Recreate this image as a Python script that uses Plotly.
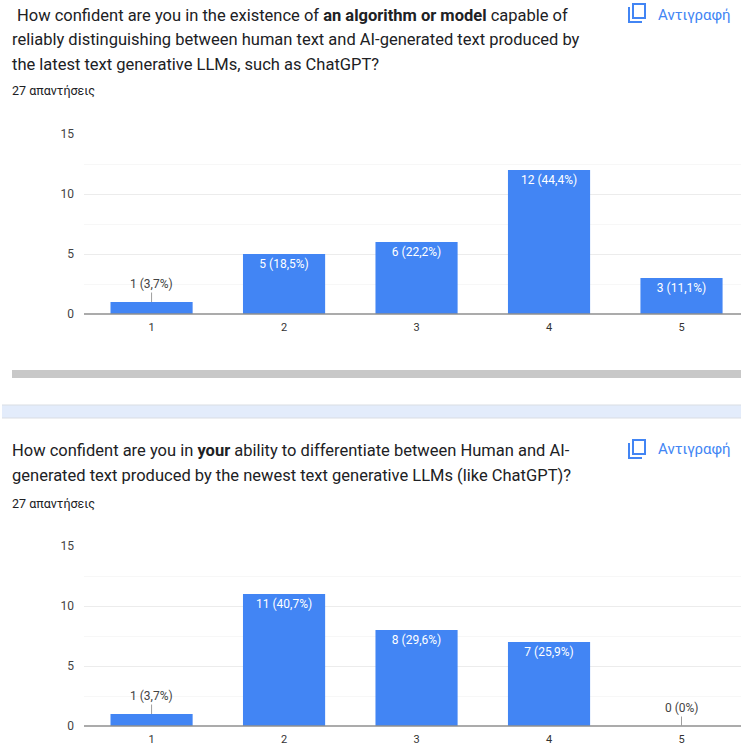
import plotly.graph_objects as go

WIDTH, HEIGHT = 741, 746

# Survey results
ratings = [1, 2, 3, 4, 5]
counts_model = [1, 5, 6, 12, 3]
labels_model = ["1 (3,7%)", "5 (18,5%)", "6 (22,2%)", "12 (44,4%)", "3 (11,1%)"]
counts_self = [1, 11, 8, 7, 0]
labels_self = ["1 (3,7%)", "11 (40,7%)", "8 (29,6%)", "7 (25,9%)", "0 (0%)"]

y_ticks = [0, 5, 10, 15]
responses = "27 απαντήσεις"
copy_label = "Αντιγραφή"

BLUE = "#4285f4"
FONT = "Roboto"
TEXT = "#202124"
HEADING = 16.5


def px_x(x):
    return x / WIDTH


def px_y(y):
    return 1 - y / HEIGHT


fig = go.Figure()
annotations = []
shapes = []


def text_at(x, y, text, size, color=TEXT, anchor="left"):
    annotations.append(dict(
        x=px_x(x), y=px_y(y), xref="paper", yref="paper", text=text, showarrow=False,
        xanchor=anchor, yanchor="middle", align="left", borderpad=0,
        font=dict(family=FONT, size=size, color=color),
    ))


def add_chart(counts, labels, axis_suffix):
    inside = [c >= 3 for c in counts]
    fig.add_trace(go.Bar(
        x=ratings, y=counts, width=0.62,
        marker=dict(color=BLUE, line=dict(width=0)),
        text=[t if i else "" for t, i in zip(labels, inside)],
        textposition="inside", insidetextanchor="end", textangle=0,
        constraintext="none",
        textfont=dict(family=FONT, size=12, color="#ffffff"),
        cliponaxis=False, showlegend=False, hoverinfo="skip",
        xaxis="x" + axis_suffix, yaxis="y" + axis_suffix,
    ))
    # Short bars carry their label above, on a small leader line
    for r, c, t, i in zip(ratings, counts, labels, inside):
        if not i:
            annotations.append(dict(
                x=r, y=c, xref="x" + axis_suffix, yref="y" + axis_suffix, text=t,
                showarrow=True, arrowhead=0, arrowwidth=1, arrowcolor="#9e9e9e",
                ax=0, ay=-18, axref="pixel", ayref="pixel",
                font=dict(family=FONT, size=12, color="#444444"),
            ))


add_chart(counts_model, labels_model, "")
add_chart(counts_self, labels_self, "2")


def x_axis(anchor):
    return dict(
        domain=[px_x(84), 1], range=[0.49, 5.449], anchor=anchor, tickvals=ratings,
        showgrid=False, zeroline=False, showline=False, ticks="",
        ticklabelstandoff=5,
        tickfont=dict(family=FONT, size=11, color="#333333"),
    )


def y_axis(anchor, top, bottom):
    return dict(
        domain=[px_y(bottom), px_y(top)], range=[0, 15], anchor=anchor, tickvals=y_ticks,
        showgrid=True, gridcolor="#ececec", gridwidth=1, zeroline=False, showline=False,
        ticks="", ticklabelstandoff=9,
        tickfont=dict(family=FONT, size=12, color="#444444"),
        minor=dict(dtick=2.5, tick0=0, showgrid=True, gridcolor="#f7f7f7", gridwidth=1),
    )


def baseline(axis_y):
    shapes.append(dict(
        type="line", xref="paper", yref="paper", layer="above",
        x0=px_x(84), x1=1, y0=px_y(axis_y), y1=px_y(axis_y),
        line=dict(color="#8f8f8f", width=1.5),
    ))


baseline(314)
baseline(726)


def band(x0, y0, x1, y1, color):
    shapes.append(dict(
        type="rect", xref="paper", yref="paper", layer="below",
        x0=px_x(x0), x1=px_x(x1), y0=px_y(y0), y1=px_y(y1),
        fillcolor=color, line=dict(width=0),
    ))


# Horizontal scroll bar and the strip separating the two questions
band(12, 370, 741, 378, "#c8c8c8")
band(2, 405, 741, 418, "#e3ecfb")
for edge in (405, 418):
    shapes.append(dict(
        type="line", xref="paper", yref="paper", layer="below",
        x0=px_x(2), x1=1, y0=px_y(edge), y1=px_y(edge),
        line=dict(color="#d9dde3", width=1),
    ))


def copy_icon(x, y):
    # Two offset outlines forming the copy glyph
    shapes.append(dict(
        type="rect", xref="paper", yref="paper",
        x0=px_x(x + 4), x1=px_x(x + 16), y0=px_y(y), y1=px_y(y + 14),
        line=dict(color=BLUE, width=2), fillcolor="rgba(0,0,0,0)",
    ))
    shapes.append(dict(
        type="path", xref="paper", yref="paper",
        path=(f"M {px_x(x)} {px_y(y + 3)} L {px_x(x)} {px_y(y + 18)} "
              f"L {px_x(x + 13)} {px_y(y + 18)}"),
        line=dict(color=BLUE, width=2),
    ))


copy_icon(629, 4)
copy_icon(629, 440)
text_at(657, 15, copy_label, 15, BLUE)
text_at(657, 449, copy_label, 15, BLUE)

# Question headings
text_at(16, 15, "How confident are you in the existence of <b>an algorithm or model</b> capable of", HEADING)
text_at(11, 39, "reliably distinguishing between human text and AI-generated text produced by", HEADING)
text_at(11, 64, "the latest text generative LLMs, such as ChatGPT?", HEADING)
text_at(11, 91, responses, 12.5)
text_at(11, 451, "How confident are you in <b>your</b> ability to differentiate between Human and AI-", HEADING)
text_at(11, 475, "generated text produced by the newest text generative LLMs (like ChatGPT)?", HEADING)
text_at(11, 503, responses, 12.5)

fig.update_layout(
    width=WIDTH, height=HEIGHT,
    margin=dict(l=0, r=0, t=0, b=0, autoexpand=False),
    paper_bgcolor="#ffffff", plot_bgcolor="#ffffff", bargap=0.38,
    xaxis=x_axis("y"), yaxis=y_axis("x", 134, 314),
    xaxis2=x_axis("y2"), yaxis2=y_axis("x2", 546, 726),
    annotations=annotations, shapes=shapes,
    font=dict(family=FONT),
)

fig.write_html("out.html")
